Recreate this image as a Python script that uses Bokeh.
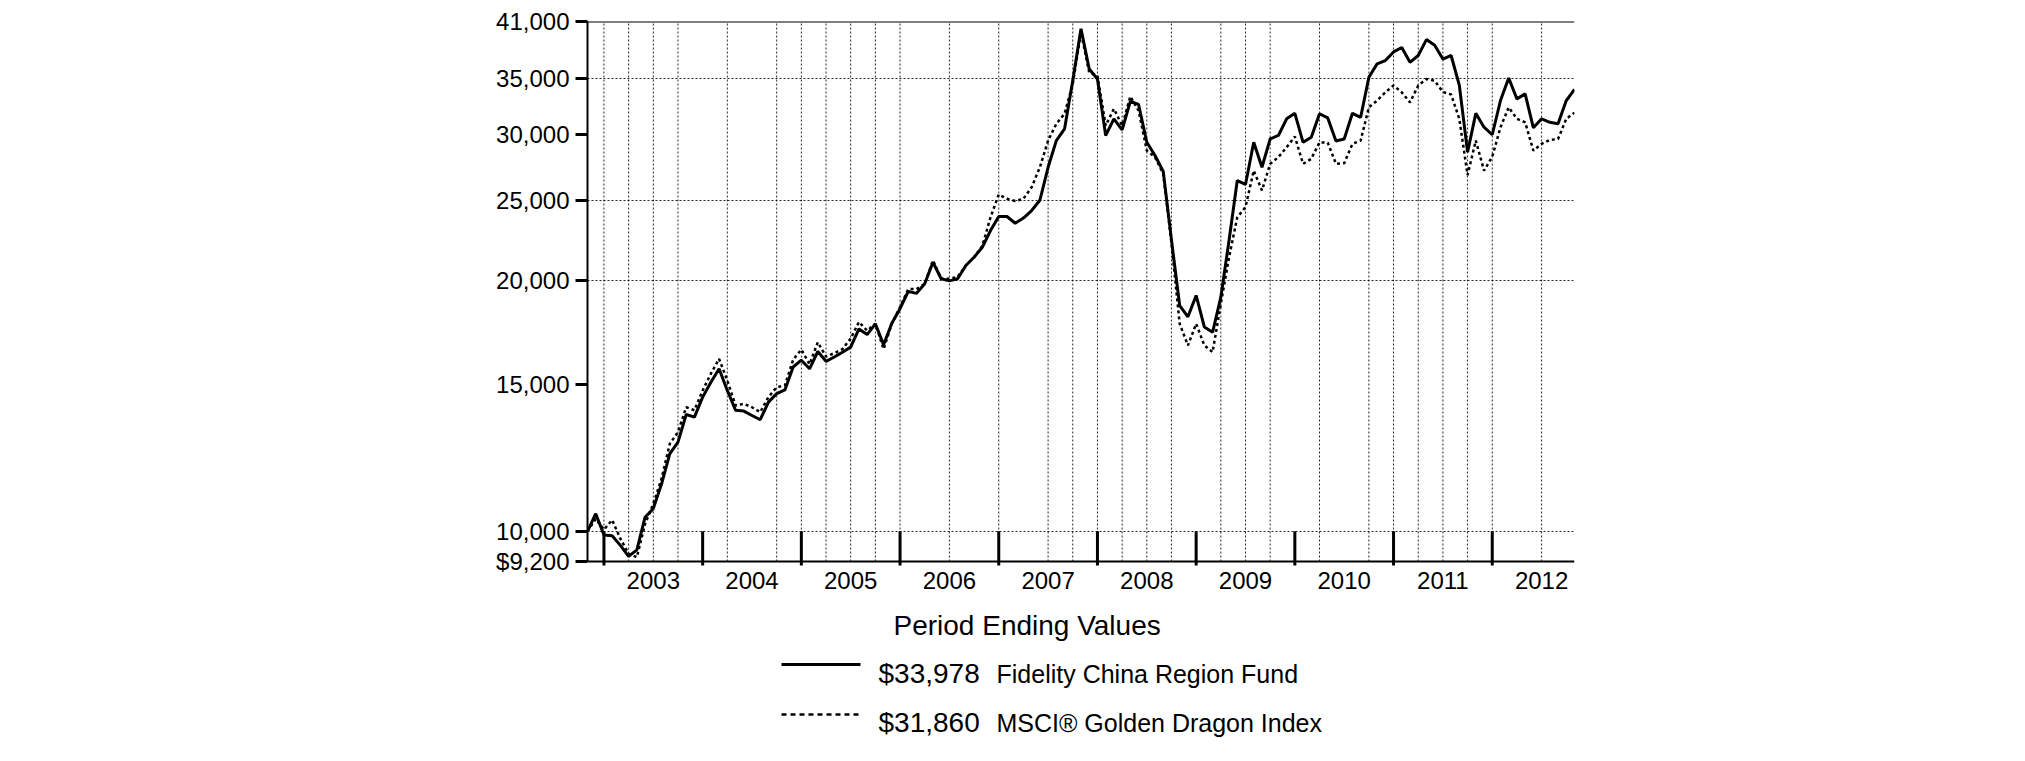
from bokeh.plotting import figure
from bokeh.models import Range1d, FixedTicker, Span
from bokeh.core.properties import value
from bokeh.embed import file_html
from bokeh.resources import INLINE

# ---- data -------------------------------------------------------------
# month-end periods, Oct 2002 .. Oct 2012
months = [f"{2002 + (9 + k) // 12}-{(9 + k) % 12 + 1:02d}" for k in range(121)]

fund = [10000, 10500, 9900, 9880, 9620, 9330, 9500, 10400, 10650, 11400,
        12390, 12800, 13820, 13720, 14500, 15110, 15680, 14770, 13980, 13950,
        13780, 13620, 14300, 14640, 14790, 15760, 16060, 15680, 16450, 16010,
        16200, 16420, 16650, 17510, 17240, 17760, 16760, 17790, 18520, 19430,
        19320, 19840, 21060, 20120, 20000, 20120, 20870, 21350, 21950, 22990,
        23900, 23900, 23460, 23800, 24300, 25000, 27390, 29490, 30460, 34820,
        40190, 35950, 34970, 29910, 31320, 30370, 32870, 32590, 29350, 28300,
        27070, 22400, 18680, 18110, 19210, 17600, 17350, 19120, 22370, 26400,
        26120, 29350, 27390, 29620, 29910, 31320, 31800, 29350, 29760, 31760,
        31400, 29450, 29620, 31800, 31450, 35130, 36460, 36800, 37690, 38150,
        36620, 37320, 39000, 38400, 36950, 37320, 34350, 28560, 31800, 30600,
        29970, 32940, 35060, 33100, 33560, 30550, 31320, 31020, 30890, 32940,
        33978]

msci = [10000, 10350, 10050, 10320, 9800, 9400, 9310, 10210, 10790, 11570,
        12740, 13160, 14100, 13980, 14770, 15470, 16120, 15180, 14170, 14230,
        14100, 13910, 14500, 14900, 14980, 16080, 16540, 15880, 16875, 16220,
        16375, 16560, 17050, 17850, 17430, 17760, 16560, 17760, 18610, 19550,
        19550, 19840, 21170, 20120, 20120, 20220, 20870, 21350, 22030, 23850,
        25400, 25100, 24950, 25100, 25920, 27390, 29490, 30890, 31760, 34500,
        39800, 35600, 35300, 30740, 32200, 30740, 33320, 32040, 28680, 28170,
        26890, 22200, 17760, 16730, 17760, 16730, 16420, 18770, 21350, 23850,
        24530, 27140, 25690, 27650, 28170, 28950, 29820, 27650, 28040, 29350,
        29320, 27650, 27700, 29220, 29490, 32330, 32940, 33700, 34350, 33700,
        32780, 34350, 34970, 34800, 33730, 33500, 31300, 26800, 29490, 27140,
        28200, 30590, 32330, 31320, 31020, 28680, 29220, 29540, 29620, 31320,
        31860]

series_names = ["Fidelity China Region Fund", "MSCI\u00ae Golden Dragon Index"]
legend_title = "Period Ending Values"

year_labels = ["2003", "2004", "2005", "2006", "2007", "2008", "2009", "2010", "2011", "2012"]
y_ticks = [9200, 10000, 15000, 20000, 25000, 30000, 35000, 41000]
y_tick_labels = ["$9,200", "10,000", "15,000", "20,000", "25,000", "30,000", "35,000", "41,000"]
y_grid = [10000, 20000, 25000, 35000]
grid_months = ["2002-12", "2003-03", "2003-06", "2003-09", "2004-03", "2004-09", "2004-12",
               "2005-03", "2005-06", "2005-09", "2005-12", "2006-06", "2006-12", "2007-06",
               "2007-09", "2007-12", "2008-03", "2008-06", "2008-09", "2009-03", "2009-06",
               "2009-09", "2010-03", "2010-09", "2010-12", "2011-03", "2011-06", "2011-09",
               "2011-12", "2012-06"]

# ---- derived positions --------------------------------------------------
x = list(range(len(months)))
label_pos = [months.index(f"{y}-06") for y in year_labels]
year_bounds = [months.index(f"{int(y) - 1}-12") for y in year_labels]
grid_pos = [months.index(m) for m in grid_months]

FONT = "Liberation Sans"
# page geometry of the chart box (pixels) and of the whole drawing frame
CL, CT, CW, CH = 587, 21, 987, 540           # chart box
FB = 755                                      # frame bottom (legend lives below chart box)
W, H = CL + CW + 10, 760
X0, X1 = 0, len(months) - 1
Y0, Y1 = y_ticks[0], y_ticks[-1]


def px_x(px):
    return X0 + (px - CL) / CW * (X1 - X0)


def px_y(py):
    return Y0 * (Y1 / Y0) ** ((CT + CH - py) / CH)


p = figure(width=W, height=H, title=None,
           x_range=Range1d(X0, X1), y_range=Range1d(px_y(FB), Y1),
           y_axis_type="log", x_axis_location=None,
           output_backend="svg", toolbar_location=None,
           min_border_left=CL, min_border_right=W - CL - CW, min_border_top=CT,
           min_border_bottom=H - FB)
p.outline_line_color = None
p.background_fill_color = "white"
p.border_fill_color = "white"

# y axis (bounded to the chart box)
yax = p.yaxis[0]
yax.bounds = (Y0, Y1)
yax.ticker = FixedTicker(ticks=y_ticks)
yax.major_label_overrides = dict(zip(y_ticks, y_tick_labels))
yax.axis_line_width = 2
yax.axis_line_color = "black"
yax.major_tick_line_width = 3
yax.major_tick_line_color = "black"
yax.major_tick_out = 12
yax.major_tick_in = 0
yax.minor_tick_line_color = None
yax.major_label_text_font = FONT
yax.major_label_text_font_size = "24px"
yax.major_label_text_color = "black"
yax.major_label_standoff = 6

# horizontal grid
p.ygrid.ticker = FixedTicker(ticks=y_grid)
p.ygrid.grid_line_color = "black"
p.ygrid.grid_line_dash = "2 2"
p.ygrid.grid_line_width = 1
p.ygrid.grid_line_alpha = 0.85
p.xgrid.visible = False

# vertical dotted grid (quarter marks)
p.segment(x0=grid_pos, y0=[Y0] * len(grid_pos), x1=grid_pos, y1=[Y1] * len(grid_pos),
          line_color="black", line_width=1, line_dash="2 2", line_alpha=0.85)

# chart box: top line and x axis line
p.add_layout(Span(location=Y1, dimension="width", line_color="black", line_width=2))
p.add_layout(Span(location=Y0, dimension="width", line_color="black", line_width=2))

# year boundary ticks and year labels
p.segment(x0=year_bounds, y0=[y_ticks[1]] * len(year_bounds),
          x1=year_bounds, y1=[px_y(565)] * len(year_bounds),
          line_color="black", line_width=3)
p.text(x=label_pos, y=[px_y(580)] * len(label_pos), text=year_labels,
       text_font=value(FONT), text_font_size=value("24px"), text_align="center",
       text_baseline="middle", text_color="black")

# series
p.line(x, msci, line_color="black", line_width=2.5, line_dash="3 3")
p.line(x, fund, line_color="black", line_width=3)

# ---- legend below the chart ---------------------------------------------
p.text(x=[px_x(893)], y=[px_y(625)], text=[legend_title], text_font=value(FONT),
       text_font_size=value("28px"), text_baseline="middle", text_color="black")

values = [f"${fund[-1]:,}", f"${msci[-1]:,}"]
rows_text_y = [px_y(673), px_y(722)]
rows_line_y = [px_y(664), px_y(714)]
p.segment(x0=[px_x(781)], y0=[rows_line_y[0]], x1=[px_x(860)], y1=[rows_line_y[0]],
          line_color="black", line_width=3)
p.segment(x0=[px_x(781)], y0=[rows_line_y[1]], x1=[px_x(860)], y1=[rows_line_y[1]],
          line_color="black", line_width=2.5, line_dash="5 4")
p.text(x=[px_x(878)] * 2, y=rows_text_y, text=values, text_font=value(FONT),
       text_font_size=value("28px"), text_baseline="middle", text_color="black")
p.text(x=[px_x(996)] * 2, y=rows_text_y, text=series_names, text_font=value(FONT),
       text_font_size=value("25px"), text_baseline="middle", text_color="black")

open("out.html", "w").write(file_html(p, INLINE))
